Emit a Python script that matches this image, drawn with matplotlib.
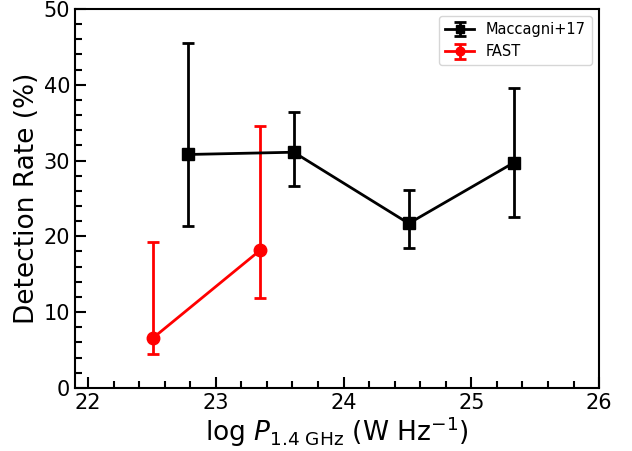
import matplotlib
matplotlib.use("Agg")
import matplotlib.pyplot as plt
from matplotlib.ticker import MultipleLocator

# Maccagni+17 detection rates
mac_x = [22.78, 23.61, 24.51, 25.33]
mac_y = [30.8, 31.1, 21.7, 29.7]
mac_lo = [21.3, 26.6, 18.4, 22.5]
mac_hi = [45.5, 36.4, 26.1, 39.6]

# FAST detection rates
fast_x = [22.51, 23.35]
fast_y = [6.6, 18.2]
fast_lo = [4.5, 11.8]
fast_hi = [19.2, 34.6]


def errs(y, lo, hi):
    return [[v - l for v, l in zip(y, lo)], [h - v for v, h in zip(y, hi)]]


fig = plt.figure(figsize=(6.32, 4.51), dpi=100)
ax = fig.add_axes([0.119, 0.140, 0.829, 0.840])

ax.errorbar(mac_x, mac_y, yerr=errs(mac_y, mac_lo, mac_hi), color="black",
            marker="s", markersize=8, lw=2, capsize=4, capthick=2,
            elinewidth=2, label="Maccagni+17")
ax.errorbar(fast_x, fast_y, yerr=errs(fast_y, fast_lo, fast_hi), color="red",
            marker="o", markersize=9, lw=2, capsize=4, capthick=2,
            elinewidth=2, label="FAST")

ax.set_xlim(21.9, 26)
ax.set_ylim(0, 50)
ax.xaxis.set_major_locator(MultipleLocator(1))
ax.xaxis.set_minor_locator(MultipleLocator(0.2))
ax.yaxis.set_major_locator(MultipleLocator(10))
ax.yaxis.set_minor_locator(MultipleLocator(2))
ax.tick_params(which="both", direction="in", top=False, right=False,
               labelsize=15, width=1.5)
ax.tick_params(which="major", length=8)
ax.tick_params(which="minor", length=5)
for s in ax.spines.values():
    s.set_linewidth(1.5)

ax.set_xlabel(r"log $P_{1.4\ \mathrm{GHz}}$ (W Hz$^{-1}$)", fontsize=19,
              labelpad=1)
ax.set_ylabel("Detection Rate (%)", fontsize=19, labelpad=3)
ax.legend(loc="upper right", fontsize=10.5, markerscale=0.7)

fig.savefig("out.png", dpi=100)
